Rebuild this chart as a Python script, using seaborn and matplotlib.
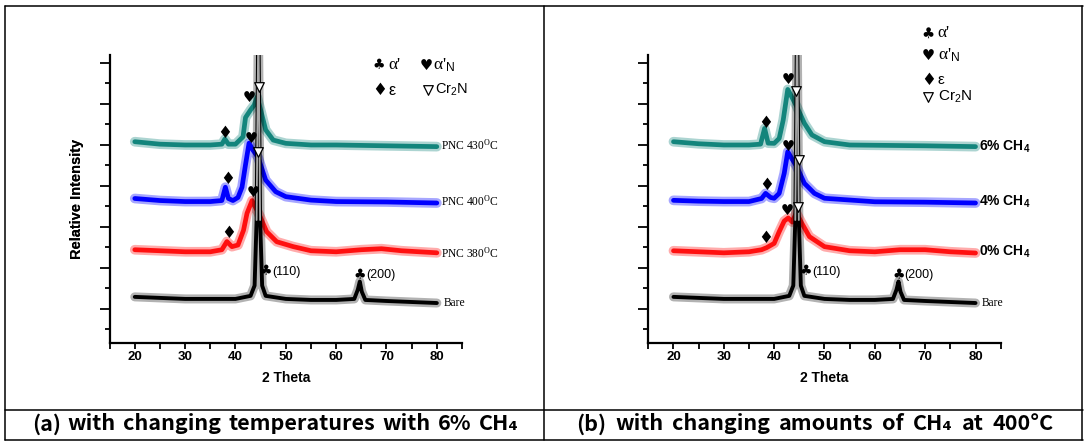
import numpy as np
import pandas as pd
import matplotlib
matplotlib.use("Agg")
import matplotlib.pyplot as plt
import seaborn as sns
from matplotlib.lines import Line2D

# ---------------- data ----------------
# Bare substrate (same in both panels)
theta_bare = [20, 25, 30, 35, 40, 43.0, 43.8, 44.2, 44.55, 44.9, 45.3, 46, 50, 55, 60, 63.6, 64.3, 64.7, 65.1, 65.8, 70, 75, 80]
int_bare = [2.25, 2.2, 2.15, 2.15, 2.15, 2.3, 2.8, 6.0, 16.0, 6.0, 2.8, 2.3, 2.15, 2.1, 2.1, 2.15, 2.6, 3.0, 2.5, 2.1, 2.05, 2.0, 1.95]

# (a) changing temperature, 6% CH4
theta_380 = [20, 25, 30, 35, 37.3, 38.3, 39.3, 40.5, 41.6, 42.3, 43.3, 44.9, 46.2, 48.2, 51.5, 55, 60, 65, 69, 73, 80]
int_380 = [4.55, 4.5, 4.45, 4.45, 4.55, 4.95, 4.7, 4.78, 5.5, 6.33, 6.95, 6.16, 5.43, 4.94, 4.7, 4.5, 4.45, 4.55, 4.6, 4.5, 4.4]
theta_400 = [20, 25, 30, 35, 37.3, 38.0, 38.6, 39.5, 40.5, 41.3, 42.0, 42.7, 43.5, 44.5, 46, 48, 50, 55, 60, 70, 80]
int_400 = [7.05, 6.95, 6.9, 6.9, 6.95, 7.6, 7.05, 6.95, 7.1, 7.6, 8.7, 9.75, 9.4, 9.05, 7.95, 7.38, 7.14, 6.97, 6.9, 6.88, 6.83]
theta_430 = [20, 25, 30, 35, 37.3, 37.9, 38.6, 40, 41.5, 42.0, 43.0, 43.7, 44.3, 45, 46, 47.5, 50, 55, 60, 70, 80]
int_430 = [9.82, 9.7, 9.66, 9.66, 9.7, 9.95, 9.7, 9.7, 10.06, 11.0, 11.37, 11.6, 12.0, 11.37, 10.4, 9.9, 9.74, 9.66, 9.66, 9.62, 9.58]

# (b) changing CH4 amount at 400 C
theta_0ch4 = [20, 25, 30, 35, 37.5, 38.5, 40, 41, 42, 42.8, 43.6, 44.4, 45.5, 47, 50, 55, 60, 65, 70, 75, 80]
int_0ch4 = [4.5, 4.45, 4.4, 4.45, 4.55, 4.65, 4.86, 5.43, 5.95, 6.1, 5.9, 6.35, 5.84, 5.19, 4.7, 4.5, 4.45, 4.55, 4.55, 4.45, 4.39]
theta_4ch4 = [20, 25, 30, 35, 37.5, 38.3, 39.3, 40, 41, 42, 42.7, 43.5, 44.5, 46, 48, 50, 60, 70, 80]
int_4ch4 = [6.96, 6.92, 6.9, 6.9, 7.05, 7.3, 7.1, 7.06, 7.3, 8.28, 9.33, 9.0, 8.6, 7.79, 7.3, 7.06, 6.89, 6.87, 6.83]
theta_6ch4 = [20, 25, 30, 35, 37.3, 38.1, 38.8, 40, 41, 41.8, 42.7, 43.5, 44.5, 46, 47.5, 50, 55, 70, 80]
int_6ch4 = [9.82, 9.72, 9.66, 9.66, 9.7, 10.47, 9.75, 9.74, 9.98, 10.88, 12.37, 12.0, 11.53, 10.72, 10.15, 9.82, 9.66, 9.62, 9.58]

# peak-identification symbols (2theta, height)
club_a = [(46.1, 3.48, "(110)"), (64.7, 3.3, "(200)")]
heart_a = [(43.5, 7.33), (43.2, 9.98), (42.8, 11.98)]
diamond_a = [(38.6, 5.35), (38.5, 8.0), (37.8, 10.26)]
triangle_a = [(44.4, 9.33), (44.7, 12.47)]

club_b = [(46.3, 3.48, "(110)"), (64.7, 3.3, "(200)")]
heart_b = [(42.6, 6.45), (42.9, 9.6), (42.8, 12.85)]
diamond_b = [(38.4, 5.1), (38.6, 7.7), (38.4, 10.75)]
triangle_b = [(44.75, 6.65), (44.95, 8.93), (44.4, 12.29)]

labels_a = ["Bare", "PNC 380$^{\\mathrm{O}}$C", "PNC 400$^{\\mathrm{O}}$C", "PNC 430$^{\\mathrm{O}}$C"]
label_y_a = [1.96, 4.37, 6.89, 9.66]
labels_b = ["Bare", "0% CH$_{\\mathbf{4}}$", "4% CH$_{\\mathbf{4}}$", "6% CH$_{\\mathbf{4}}$"]
label_y_b = [1.96, 4.45, 6.86, 9.58]

x_ticks = [20, 30, 40, 50, 60, 70, 80]
captions = ["(a) with changing temperatures with 6% CH\u2084",
            "(b) with changing amounts of CH\u2084 at 400\u00b0C"]

# ---------------- style ----------------
sns.set_theme(style="ticks")
plt.rcParams['font.family'] = ['Liberation Sans', 'DejaVu Sans']
plt.rcParams['mathtext.fontset'] = 'custom'
plt.rcParams['mathtext.rm'] = 'Liberation Serif'
plt.rcParams['mathtext.sf'] = 'Liberation Sans'
plt.rcParams['mathtext.bf'] = 'Liberation Sans:bold'
plt.rcParams['mathtext.it'] = 'Liberation Serif:italic'

W, H = 1089, 442
fig = plt.figure(figsize=(W / 100, H / 100), dpi=100)
fig.patch.set_facecolor("white")

TEAL = "#13857c"
BLUE = "#0000ff"
RED = "#ff1010"
BLACK = "#000000"
GLYPH = ['DejaVu Sans']


def band(ax, x, y, color, z, outer=7.0, inner=3.4, a=0.35):
    sns.lineplot(x=x, y=y, ax=ax, color=color, lw=outer, alpha=a, sort=False,
                 estimator=None, zorder=z)
    sns.lineplot(x=x, y=y, ax=ax, color=color, lw=inner, alpha=1.0, sort=False,
                 estimator=None, zorder=z + 0.1)


def bare_curve(ax):
    band(ax, theta_bare, int_bare, BLACK, 5, outer=6.5, inner=2.8, a=0.3)
    # light core of the very intense (110) reflection
    sel = [i for i, t in enumerate(theta_bare) if 44.2 <= t <= 44.9]
    sns.lineplot(x=[theta_bare[i] for i in sel], y=[int_bare[i] for i in sel], ax=ax,
                 color="#a8a8a8", lw=1.3, sort=False, estimator=None, zorder=5.5)


def setup_axes(left_px):
    ax = fig.add_axes([left_px / W, (H - 343) / H, 352.4 / W, 288 / H])
    ax.set_xlim(15, 85)
    ax.set_ylim(0, 14.05)
    ax.set_facecolor("white")
    for s in ["top", "right"]:
        ax.spines[s].set_visible(False)
    for s in ["left", "bottom"]:
        ax.spines[s].set_linewidth(1.6)
        ax.spines[s].set_color("black")
    ax.set_xticks(x_ticks)
    ax.set_xticks([15, 25, 35, 45, 55, 65, 75, 85], minor=True)
    ax.set_yticks([0.67 + k for k in range(1, 14, 2)])
    ax.set_yticks([0.67 + k for k in range(0, 14, 2)], minor=True)
    ax.set_yticklabels([])
    ax.tick_params(axis="x", which="both", direction="out", length=4, width=1.3,
                   colors="black", pad=1.5, labelsize=9.5)
    ax.tick_params(axis="y", which="major", direction="out", length=7, width=1.3, colors="black")
    ax.tick_params(axis="y", which="minor", direction="out", length=3.5, width=1.3, colors="black")
    for t in ax.get_xticklabels():
        t.set_fontweight("bold")
    ax.set_xlabel("2 Theta", fontsize=10, fontweight="bold", color="black")
    ax.set_ylabel("Relative Intensity", fontsize=10.5, fontweight="bold", color="black")
    ax.xaxis.set_label_coords(0.5, (343 - 378) / 288)
    ax.xaxis.label.set_verticalalignment("center")
    ax.yaxis.set_label_coords((77.5 - left_px) / 352.4, 0.5)
    ax.yaxis.label.set_verticalalignment("center")
    return ax


def draw_symbols(ax, clubs, hearts, diamonds, triangles):
    for x, y, lab in clubs:
        ax.text(x, y, "\u2663", family=GLYPH, fontsize=10, ha="center", va="center", color="black", zorder=10)
        ax.text(x + 1.2, y, lab, fontsize=9, ha="left", va="center", color="black", zorder=10)
    for x, y in hearts:
        ax.text(x, y, "\u2665", family=GLYPH, fontsize=10.5, ha="center", va="center", color="black", zorder=10)
    for x, y in diamonds:
        ax.text(x, y, "\u2666", family=GLYPH, fontsize=12, ha="center", va="center", color="black", zorder=10)
    tx = [p[0] for p in triangles]
    ty = [p[1] for p in triangles]
    ax.scatter(tx, ty, marker="v", s=48, facecolor="white", edgecolor="black", linewidth=0.9, zorder=11)


# ---------------- panel (a) ----------------
ax_a = setup_axes(109.6)
band(ax_a, theta_380, int_380, RED, 2)
band(ax_a, theta_400, int_400, BLUE, 3)
band(ax_a, theta_430, int_430, TEAL, 4)
bare_curve(ax_a)
draw_symbols(ax_a, club_a, heart_a, diamond_a, triangle_a)
for lab, yv in zip(labels_a, label_y_a):
    ax_a.text(80.9 if lab != "Bare" else 81.4, yv, lab, family="Liberation Serif",
              fontsize=8.3, ha="left", va="center", color="black")
# legend (a)
ax_a.text(68.5, 13.56, "\u2663", family=GLYPH, fontsize=10, ha="center", va="center", color="black")
ax_a.text(70.3, 13.56, "\u03b1'", family="Liberation Serif", fontsize=12.5, ha="left", va="center", color="black")
ax_a.text(78.0, 13.56, "\u2665", family=GLYPH, fontsize=10.5, ha="center", va="center", color="black")
ax_a.text(79.3, 13.56, "\u03b1'$_{\\mathsf{N}}$", family="Liberation Serif", fontsize=12.5, ha="left", va="center", color="black")
ax_a.text(68.7, 12.34, "\u2666", family=GLYPH, fontsize=12, ha="center", va="center", color="black")
ax_a.text(70.4, 12.34, "\u03b5", family="Liberation Sans", fontsize=11.5, ha="left", va="center", color="black")
ax_a.scatter([78.2], [12.34], marker="v", s=48, facecolor="white", edgecolor="black", linewidth=0.9, clip_on=False)
ax_a.text(79.7, 12.34, "Cr$_{\\mathsf{2}}$N", family="Liberation Sans", fontsize=10.5, ha="left", va="center", color="black")

# ---------------- panel (b) ----------------
ax_b = setup_axes(648.3)
band(ax_b, theta_0ch4, int_0ch4, RED, 2)
band(ax_b, theta_4ch4, int_4ch4, BLUE, 3)
band(ax_b, theta_6ch4, int_6ch4, TEAL, 4)
bare_curve(ax_b)
draw_symbols(ax_b, club_b, heart_b, diamond_b, triangle_b)
for lab, yv in zip(labels_b, label_y_b):
    if lab == "Bare":
        ax_b.text(81.3, yv, lab, family="Liberation Serif", fontsize=8.3, ha="left", va="center", color="black")
    else:
        ax_b.text(80.7, yv, lab, family="Liberation Sans", fontsize=10, fontweight="bold",
                  ha="left", va="center", color="black")
# legend (b)
leg_b = [(15.1, "\u2663", "\u03b1'"), (14.05, "\u2665", "\u03b1'$_{\\mathsf{N}}$"),
         (12.83, "\u2666", "\u03b5"), (11.99, "\u25bd", "Cr$_{\\mathsf{2}}$N")]
for yv, g, t in leg_b:
    if g == "\u25bd":
        ax_b.scatter([70.6], [yv], marker="v", s=48, facecolor="white", edgecolor="black",
                     linewidth=0.9, clip_on=False, zorder=11)
    else:
        ax_b.text(70.6, yv, g, family=GLYPH, fontsize=12 if g == "\u2666" else 10.5,
                  ha="center", va="center", color="black", clip_on=False)
    fam = "Liberation Serif" if t.startswith("\u03b1") else "Liberation Sans"
    ax_b.text(72.5, yv, t, family=fam, fontsize=12.5 if fam == "Liberation Serif" else 11,
              ha="left", va="center", color="black", clip_on=False)

# ---------------- table frame and captions ----------------
def hline(y, x0, x1):
    fig.add_artist(Line2D([x0 / W, x1 / W], [1 - y / H, 1 - y / H], transform=fig.transFigure,
                          color="black", lw=1.1))


def vline(x, y0, y1):
    fig.add_artist(Line2D([x / W, x / W], [1 - y0 / H, 1 - y1 / H], transform=fig.transFigure,
                          color="black", lw=1.1))


hline(6, 5, 1082.5)
hline(410, 5, 1082.5)
hline(440, 5, 1082.5)
vline(5.3, 6, 440)
vline(544, 6, 440)
vline(1082.3, 6, 440)

# justified captions: words spread over the measured width of the reference
cap_fam = ['Noto Sans CJK KR', 'DejaVu Sans']
cap_spans = [(31.7, 518.3), (576.0, 1053.3)]
renderer = fig.canvas.get_renderer()
for txt, (x0, x1) in zip(captions, cap_spans):
    words = txt.split(" ")
    objs = [fig.text(0, 1 - 424 / H, w, family=cap_fam, fontsize=15.5, fontweight="bold",
                     ha="left", va="center", color="black") for w in words]
    widths = [o.get_window_extent(renderer=renderer).width for o in objs]
    gap = ((x1 - x0) - sum(widths)) / (len(words) - 1)
    xc = x0
    for o, wd in zip(objs, widths):
        o.set_x(xc / W)
        xc += wd + gap

fig.savefig("out.png", dpi=100, facecolor="white")
